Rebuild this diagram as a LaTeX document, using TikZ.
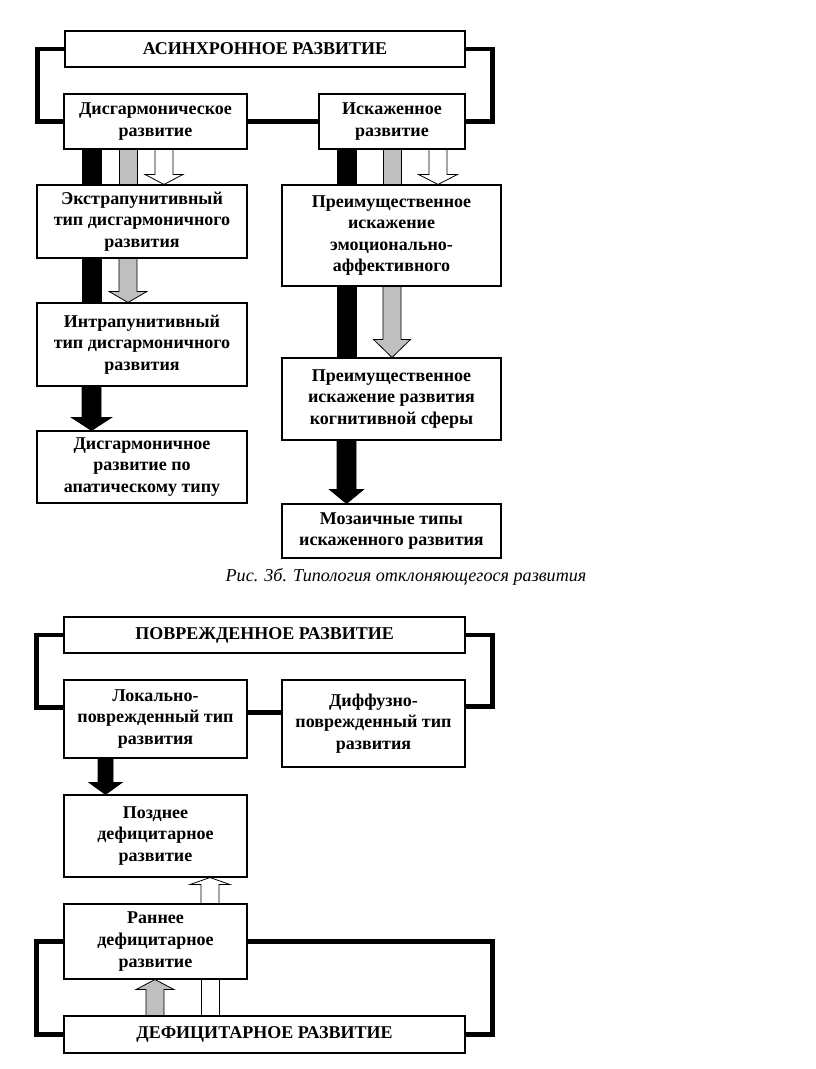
\documentclass[tikz,border=0pt]{standalone}
\usepackage{fontspec}
\setmainfont{Liberation Serif}
\usetikzlibrary{calc}
\def\blockarrow[#1](#2)(#3)(#4:#5:#6){\draw[#1] ($(#2)+(-#4,0)$) -- ($(#3)+(-#4,#6)$) -- ($(#3)+(-#5,#6)$) -- (#3) -- ($(#3)+(#5,#6)$) -- ($(#3)+(#4,#6)$) -- ($(#2)+(#4,0)$) -- cycle;}
\def\blockbar[#1](#2)(#3)(#4){\draw[#1] ($(#2)+(-#4,0)$) rectangle ($(#3)+(#4,0)$);}
\tikzset{
	box/.style={draw, line width=0.8pt, fill=white, align=center, inner sep=2pt, font=\fontsize{13.5}{16.2}\selectfont\bfseries},
	link/.style={line width=3.6pt},
	fatblack/.style={draw=black, line width=0.6pt, fill=black},
	fatgray/.style={draw=black, line width=0.6pt, fill=black!25},
	fatwhite/.style={draw=black, line width=0.6pt, fill=white}
}

\begin{document}
\begin{tikzpicture}[x=0.75pt,y=-0.75pt]
		%%%%% START %%%%%
		\useasboundingbox (0,0) rectangle (816,1069);
		
		\coordinate (blackL) at (91.5,0);
		\coordinate (grayL) at (128,0);
		\coordinate (whiteL) at (164,0);
		\coordinate (blackR) at (346.5,0);
		\coordinate (grayR) at (392,0);
		\coordinate (whiteR) at (438,0);
		
		\node[box, minimum width=300pt, minimum height=27pt] (asyn) at (265,49) {АСИНХРОННОЕ РАЗВИТИЕ};
		\node[box, minimum width=137.25pt, minimum height=41.25pt] (dis) at (155.5,121.5) {Дисгармоническое\\развитие};
		\node[box, minimum width=109.5pt, minimum height=41.25pt] (isk) at (392,121.5) {Искаженное\\развитие};
		\node[box, minimum width=157.5pt, minimum height=54.75pt] (ekstra) at (142,221.5) {Экстрапунитивный\\тип дисгармоничного\\развития};
		\node[box, minimum width=164.25pt, minimum height=75.75pt] (emo) at (391.5,235.5) {Преимущественное\\искажение\\эмоционально-\\аффективного};
		\node[box, minimum width=157.5pt, minimum height=62.25pt] (intra) at (142,344.5) {Интрапунитивный\\тип дисгармоничного\\развития};
		\node[box, minimum width=157.5pt, minimum height=54pt] (apat) at (142,467) {Дисгармоничное\\развитие по\\апатическому типу};
		\node[box, minimum width=164.25pt, minimum height=61.5pt] (kogn) at (391.5,399) {Преимущественное\\искажение развития\\когнитивной сферы};
		\node[box, minimum width=164.25pt, minimum height=40.5pt] (moz) at (391.5,531) {Мозаичные типы\\искаженного развития};
		
		\draw[link] (asyn.west) -- ++(-27,0) |- (dis.west);
		\draw[link] (asyn.east) -- ++(27,0) |- (isk.east);
		\draw[link] (dis.east) -- (isk.west);
		
		\blockbar[fatblack](dis.south -| blackL)(ekstra.north -| blackL)(9.5);
		\blockbar[fatblack](ekstra.south -| blackL)(intra.north -| blackL)(9.5);
		\blockarrow[fatblack](intra.south -| blackL)(apat.north -| blackL)(9.5:20:-13);
		\blockbar[fatgray](dis.south -| grayL)(ekstra.north -| grayL)(9);
		\blockarrow[fatgray](ekstra.south -| grayL)(intra.north -| grayL)(9:19:-11);
		\blockarrow[fatwhite](dis.south -| whiteL)(ekstra.north -| whiteL)(9:19:-10);
		
		\blockbar[fatblack](isk.south -| blackR)(emo.north -| blackR)(9.5);
		\blockbar[fatblack](emo.south -| blackR)(kogn.north -| blackR)(9.5);
		\blockarrow[fatblack](kogn.south -| blackR)(moz.north -| blackR)(9.5:17:-14);
		\blockbar[fatgray](isk.south -| grayR)(emo.north -| grayR)(9);
		\blockarrow[fatgray](emo.south -| grayR)(kogn.north -| grayR)(9:18.5:-18);
		\blockarrow[fatwhite](isk.south -| whiteR)(emo.north -| whiteR)(9:19.5:-10);
		
		\node[font=\fontsize{13.6}{16}\selectfont\itshape] (caption) at (406,577) {Рис. 3б. Типология отклоняющегося развития};
		
		\coordinate (blackB) at (105.5,0);
		\coordinate (grayB) at (155,0);
		\coordinate (whiteB) at (210,0);
		
		\node[box, minimum width=300.75pt, minimum height=27pt] (povr) at (264.5,635) {ПОВРЕЖДЕННОЕ РАЗВИТИЕ};
		\node[box, minimum width=137.25pt, minimum height=58.5pt] (lok) at (155.5,719) {Локально-\\поврежденный тип\\развития};
		\node[box, minimum width=137.25pt, minimum height=65.25pt] (diff) at (373.5,723.5) {Диффузно-\\поврежденный тип\\развития};
		\node[box, minimum width=137.25pt, minimum height=61.5pt] (pozd) at (155.5,836) {Позднее\\дефицитарное\\развитие};
		\node[box, minimum width=137.25pt, minimum height=56.25pt] (ran) at (155.5,941.5) {Раннее\\дефицитарное\\развитие};
		\node[box, minimum width=300.75pt, minimum height=27.75pt] (defic) at (264.5,1034.5) {ДЕФИЦИТАРНОЕ РАЗВИТИЕ};
		
		\draw[link] (povr.west) -- ++(-27,0) |- ($(lok.north west)!0.35!(lok.south west)$);
		\draw[link] (povr.east) -- ++(27,0) |- ($(diff.north east)!0.31!(diff.south east)$);
		\draw[link] ($(lok.north east)!0.42!(lok.south east)$) coordinate (mid) -- (mid -| diff.west);
		\draw[link] (ran.west) -- ++(-27,0) |- (defic.west);
		\draw[link] (ran.east) -- ($(ran.east -| defic.east)+(27,0)$) |- (defic.east);
		
		\blockarrow[fatblack](lok.south -| blackB)(pozd.north -| blackB)(7.5:16.5:-12);
		\blockarrow[fatwhite](ran.north -| whiteB)(pozd.south -| whiteB)(9:20:7);
		\blockarrow[fatgray](defic.north -| grayB)(ran.south -| grayB)(9:19:10);
		\blockbar[fatwhite](defic.north -| whiteB)(ran.south -| whiteB)(9);
		
		%%%%% END %%%%%
\end{tikzpicture}
\end{document}
